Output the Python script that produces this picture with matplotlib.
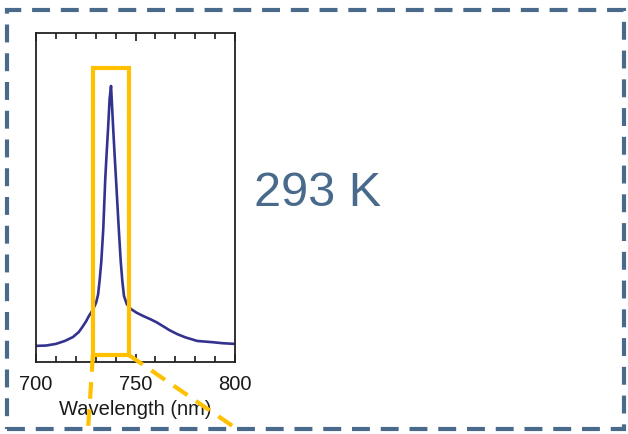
import matplotlib
matplotlib.use("Agg")
import matplotlib.pyplot as plt
from matplotlib.patches import Rectangle
from matplotlib.ticker import MultipleLocator

plt.rcParams['font.family'] = ['Liberation Sans', 'DejaVu Sans']

# Spectrum (wavelength in nm, normalized intensity)
wavelength = [700.0, 705.0, 710.0, 714.5, 718.6, 721.5, 723.6, 725.2, 726.6, 728.5,
              730.2, 731.2, 732.0, 732.8, 733.8, 734.8, 735.5, 736.2, 737.0, 737.7,
              738.2, 738.8, 739.5, 740.2, 741.6, 742.6, 743.4, 744.2, 745.6, 747.7,
              750.5, 753.8, 757.5, 760.5, 763.8, 767.0, 770.9, 775.0, 781.0, 785.0,
              789.0, 794.0, 800.0]
intensity = [0.049, 0.050, 0.055, 0.064, 0.076, 0.091, 0.109, 0.124, 0.140, 0.158,
             0.180, 0.205, 0.250, 0.304, 0.404, 0.556, 0.635, 0.708, 0.800, 0.839,
             0.780, 0.708, 0.630, 0.556, 0.404, 0.304, 0.245, 0.201, 0.176, 0.161,
             0.150, 0.140, 0.130, 0.121, 0.109, 0.097, 0.085, 0.075, 0.064, 0.062,
             0.060, 0.057, 0.055]

xticks = [700, 750, 800]
xlabel = "Wavelength (nm)"
label_text = "293 K"
highlight = (728.6, 746.7, 0.021, 0.894)  # x0, x1, y0, y1

blue_grey = '#4a6a8c'
gold = '#FFC000'

fig = plt.figure(figsize=(6.28, 4.35), dpi=100)

ax = fig.add_axes([36/628, 1-363/435, 199/628, 329/435])
ax.plot(wavelength, intensity, color='#33338f', lw=1.9)
ax.set_xlim(700, 800)
ax.set_ylim(0, 1)
ax.set_xticks(xticks)
ax.xaxis.set_minor_locator(MultipleLocator(10))
ax.set_yticks([])
ax.tick_params(axis='x', which='both', direction='in', top=True, bottom=True,
               labelsize=14.5, colors='#1a1a1a', pad=9)
ax.tick_params(axis='x', which='major', length=6, width=1.2)
ax.tick_params(axis='x', which='minor', length=4, width=1.2)
ax.set_xlabel(xlabel, fontsize=14.5, color='#1a1a1a', labelpad=4)
for s in ax.spines.values():
    s.set_linewidth(1.3)
    s.set_color('#222222')

x0, x1, y0, y1 = highlight
ax.add_patch(Rectangle((x0, y0), x1 - x0, y1 - y0, fill=False, edgecolor=gold,
                       lw=3, zorder=5, clip_on=False))
ax.plot([x0, 726.1], [y0, -0.21], color=gold, lw=3, ls=(0, (4, 2.5)),
        clip_on=False, zorder=5)
ax.plot([x1, 802.5], [y0, -0.21], color=gold, lw=3, ls=(0, (4, 2.5)),
        clip_on=False, zorder=5)

# outer dashed frame
fig.add_artist(Rectangle((7/628, 1-430/435), 617/628, 419/435, fill=False,
                         edgecolor=blue_grey, lw=3, ls=(0, (4.3, 2.6)),
                         transform=fig.transFigure))

fig.text(254/628, 1-194/435, label_text, fontsize=35, color=blue_grey,
         ha='left', va='center')

fig.savefig('out.png', dpi=100)
